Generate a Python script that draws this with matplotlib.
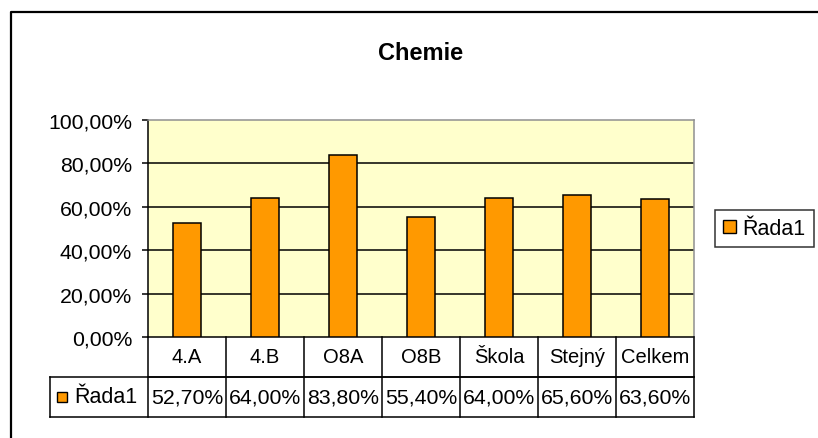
import matplotlib
matplotlib.use("Agg")
import matplotlib.pyplot as plt
from matplotlib.patches import Patch, Rectangle
from matplotlib.lines import Line2D
import matplotlib.transforms as mtransforms

categories = ["4.A", "4.B", "O8A", "O8B", "Škola", "Stejný", "Celkem"]
values = [52.7, 64.0, 83.8, 55.4, 64.0, 65.6, 63.6]
series_name = "Řada1"
title = "Chemie"
yticks = [0, 20, 40, 60, 80, 100]

def pct(v):
    return f"{v:.2f}".replace(".", ",") + "%"

plt.rcParams['font.family'] = ['Liberation Sans', 'DejaVu Sans']

W, H = 818, 439
fig = plt.figure(figsize=(W / 100, H / 100), dpi=100)
fig.patch.set_facecolor("white")

# outer chart border (left and top visible)
fig.add_artist(Line2D([11 / W, 11 / W, 1.0], [0.0, 1 - 13 / H, 1 - 13 / H],
                      transform=fig.transFigure, color="black", lw=1.6))

L, R, T, B = 148, 694, 121, 338
ax = fig.add_axes([L / W, (H - B) / H, (R - L) / W, (B - T) / H])
ax.set_facecolor("#FFFFCC")

x = list(range(len(categories)))
ax.bar(x, values, width=0.37, color="#FF9900", edgecolor="black", linewidth=1.1, zorder=3)

ax.set_xlim(-0.5, len(categories) - 0.5)
ax.set_ylim(0, 100)
ax.set_yticks(yticks)
ax.set_yticklabels([pct(v) for v in yticks], fontsize=15.3)
ax.set_xticks([])
for yv in yticks[1:-1]:
    ax.axhline(yv, color="black", lw=1.1, zorder=1)
ax.tick_params(axis="y", direction="out", length=4.5, width=1.1, color="black", pad=7)
for s in ["top", "right"]:
    ax.spines[s].set_color("#909090")
    ax.spines[s].set_linewidth(1.1)
ax.spines["left"].set_color("black")
ax.spines["left"].set_linewidth(1.1)
ax.spines["bottom"].set_color("black")
ax.spines["bottom"].set_linewidth(1.1)

ax.set_title(title, fontsize=17, fontweight="bold", pad=0, y=1 + (T - 50) / (B - T) - 0.045)

# data table below the axes
ph = B - T
r1 = -40 / ph
r2 = -80 / ph
tr = mtransforms.blended_transform_factory(ax.transData, ax.transAxes)
lw = 1.1
n = len(categories)
for i in range(n + 1):
    ax.add_line(Line2D([i - 0.5, i - 0.5], [0, r2], transform=tr, color="black", lw=lw, clip_on=False))
ax.add_line(Line2D([-0.5, n - 0.5], [r1, r1], transform=tr, color="black", lw=lw, clip_on=False))
left_ax = (50 - L) / (R - L)
ax.add_line(Line2D([left_ax, 1], [r1, r1], transform=ax.transAxes, color="black", lw=lw, clip_on=False))
ax.add_line(Line2D([left_ax, 1], [r2, r2], transform=ax.transAxes, color="black", lw=lw, clip_on=False))
ax.add_line(Line2D([left_ax, left_ax], [r1, r2], transform=ax.transAxes, color="black", lw=lw, clip_on=False))

for i, (c, v) in enumerate(zip(categories, values)):
    ax.text(i, (0 + r1) / 2, c, transform=tr, ha="center", va="center", fontsize=14.5)
    ax.text(i, (r1 + r2) / 2, pct(v), transform=tr, ha="center", va="center", fontsize=15.3)

# legend key in table
kx0 = (57 - L) / (R - L)
kw = 10 / (R - L)
kh = 10 / ph
ky = (r1 + r2) / 2 - kh / 2
ax.add_patch(Rectangle((kx0, ky), kw, kh, transform=ax.transAxes, facecolor="#FF9900",
                       edgecolor="black", lw=1.0, clip_on=False))
ax.text((74 - L) / (R - L), (r1 + r2) / 2, series_name, transform=ax.transAxes,
        ha="left", va="center", fontsize=15.5)

# legend at right
leg = fig.legend(handles=[Patch(facecolor="#FF9900", edgecolor="black", lw=1.0)],
                 labels=[series_name], loc="center left",
                 bbox_to_anchor=(715 / W, 1 - 229.5 / H), fontsize=15.5,
                 frameon=True, fancybox=False, edgecolor="black", borderpad=0.38,
                 handlelength=0.6, handleheight=0.6, handletextpad=0.3, borderaxespad=0)
leg.get_frame().set_linewidth(1.1)

fig.savefig("out.png", dpi=100, facecolor="white")
